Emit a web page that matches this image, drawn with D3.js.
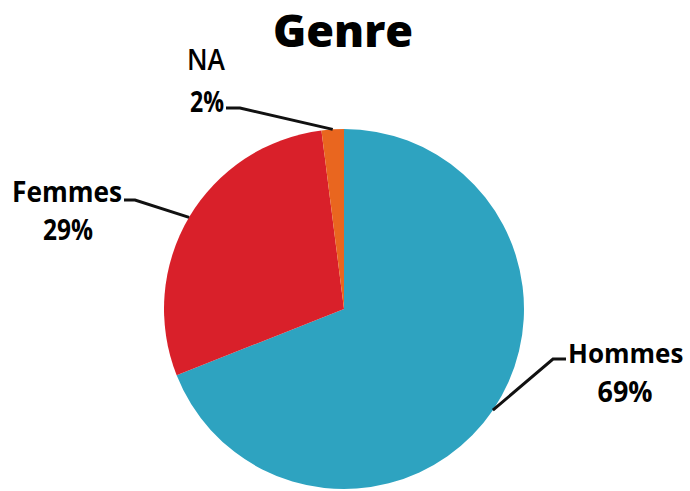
<!DOCTYPE html>
<html>
<head>
<meta charset="utf-8">
<script src="https://cdn.jsdelivr.net/npm/d3@7"></script>
<style>
  body { margin: 0; background: #fff; }
  svg { display: block; }
</style>
</head>
<body>
<div id="chart"></div>
<script>
const categories = ['Hommes', 'Femmes', 'NA'];
const values = [69, 29, 2];
const colors = ['#2ea3c0', '#d9202a', '#e9661f'];

const width = 690;
const height = 491;
const cx = 344;
const cy = 309;
const radius = 180;

// leader line layout: elbow point, end of the short horizontal tick, label spots
const labelLayout = {
  Hommes: { elbow: [553, 359], end: [566, 359], name: [568, 363, null, 26], pct: [625, 402, 55], weight: 'bold' },
  Femmes: { elbow: [135, 200], end: [124, 200], name: [12, 202, 110, 28], pct: [68, 240, 50], weight: 'bold' },
  NA: { elbow: [240, 108], end: [226, 108], name: [187, 70, 38, 28], pct: [207, 112, 34], weight: 600 },
};

const svg = d3.select('#chart').append('svg')
  .attr('width', width)
  .attr('height', height);

svg.append('text')
  .attr('x', 343)
  .attr('y', 47)
  .attr('text-anchor', 'middle')
  .attr('font-family', 'Open Sans')
  .attr('font-weight', 800)
  .attr('font-size', 45)
  .text('Genre');

const data = categories.map((c, i) => ({ name: c, value: values[i], color: colors[i] }));

const pie = d3.pie()
  .sort(null)
  .value(d => d.value);

const arc = d3.arc()
  .innerRadius(0)
  .outerRadius(radius);

const arcs = pie(data);

const g = svg.append('g')
  .attr('transform', `translate(${cx},${cy})`);

g.selectAll('path')
  .data(arcs)
  .enter().append('path')
  .attr('d', arc)
  .attr('fill', d => d.data.color);

// leader lines start on the arc at the slice mid angle
const lines = svg.append('g');

arcs.forEach((a) => {
  const lay = labelLayout[a.data.name];
  const mid = (a.startAngle + a.endAngle) / 2;
  const sx = cx + Math.sin(mid) * radius;
  const sy = cy - Math.cos(mid) * radius;

  lines.append('polyline')
    .attr('points', [[sx, sy], lay.elbow, lay.end].map(p => p.join(',')).join(' '))
    .attr('fill', 'none')
    .attr('stroke', '#111')
    .attr('stroke-width', 3);

  const name = lines.append('text')
    .attr('x', lay.name[0])
    .attr('y', lay.name[1])
    .attr('font-family', 'Open Sans')
    .attr('font-weight', lay.weight)
    .attr('font-size', lay.name[3])
    .text(a.data.name);

  if (lay.name[2]) {
    name.attr('textLength', lay.name[2])
      .attr('lengthAdjust', 'spacingAndGlyphs');
  }

  lines.append('text')
    .attr('x', lay.pct[0])
    .attr('y', lay.pct[1])
    .attr('text-anchor', 'middle')
    .attr('font-family', 'Open Sans')
    .attr('font-weight', 'bold')
    .attr('font-size', 28)
    .attr('textLength', lay.pct[2])
    .attr('lengthAdjust', 'spacingAndGlyphs')
    .text(`${a.data.value}%`);
});
</script>
</body>
</html>
